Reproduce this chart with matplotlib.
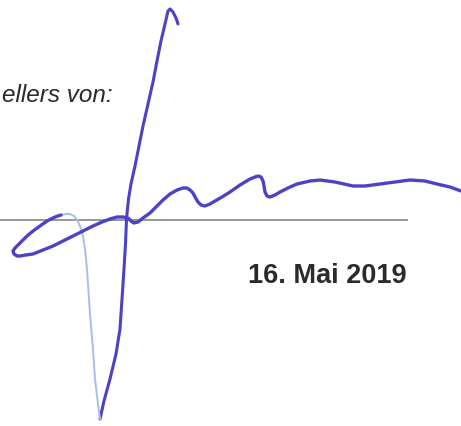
import matplotlib.pyplot as plt

#################### INPUTS ####################
# signature strokes, pixel coords of the scan (x right, y down)
down_x = [178, 176, 173, 170, 168, 165, 161, 157, 153, 148, 143, 139, 135, 131, 128.5, 126.5, 125.5, 124, 122, 120,
          116, 110, 104, 100]
down_y = [25, 19, 13, 10, 12, 25, 42, 62, 83, 105, 127, 147, 167, 185, 200, 220, 245, 270, 300, 330,
          355, 380, 402, 420]

faint_x = [100, 98, 95, 93, 90, 88, 87, 85, 83, 80, 77, 74, 70, 66, 61]
faint_y = [420, 405, 380, 350, 315, 285, 270, 250, 237, 227, 221, 217, 215, 215, 216]

tail_x = [61, 55, 47, 40, 33, 27, 20, 15, 13, 14, 17, 20, 26, 33, 43, 53, 63, 73, 83, 93, 102, 110, 117, 123,
          128, 131, 134, 138, 143, 150, 157, 163, 170, 177, 183, 187, 190, 193, 195, 198, 201, 205, 210, 215,
          222, 230, 240, 250, 255, 258, 261, 263, 264, 265, 267, 270, 275, 280, 290, 297, 310, 320, 335, 353,
          365, 380, 395, 410, 425, 437, 450, 461]
tail_y = [216, 218, 222, 227, 232, 237, 244, 249, 252, 255, 257, 257, 256, 255, 251, 247, 242, 237, 232, 227,
          223, 220, 218, 218, 219, 222, 224, 223, 219, 214, 207, 201, 195, 191, 189, 189, 191, 194, 198, 203,
          206, 207, 205, 202, 198, 193, 186, 180, 178, 177, 178, 182, 187, 193, 197, 198, 196, 193, 188, 185,
          182, 181, 183, 187, 187, 185, 183, 181, 182, 185, 188, 192]

line_x = [0, 408]
line_y = [220.5, 220.5]

label_text = "ellers von:"
date_text = "16. Mai 2019"
################## END INPUTS ####################

W, H = 461, 427
fig = plt.figure(figsize=(W / 100, H / 100), dpi=100)
ax = fig.add_axes([0, 0, 1, 1])
ax.set_xlim(0, W)
ax.set_ylim(H, 0)
ax.axis("off")

# printed form
ax.plot(line_x, line_y, color="#7a7a7a", lw=1.1, solid_capstyle="butt")
ax.text(113, 102, label_text, ha="right", va="baseline", fontsize=17.5,
        style="italic", family="Liberation Sans", color="#2a2a2a")
ax.text(248, 283, date_text, ha="left", va="baseline", fontsize=19.5,
        weight="bold", family="Liberation Sans", color="#2b2b2b")

# ink
ink = "#4d42c6"
ax.plot(down_x, down_y, color=ink, lw=2.2, solid_capstyle="round", solid_joinstyle="round")
ax.plot(faint_x, faint_y, color="#a9bde8", lw=1.4, solid_capstyle="round", solid_joinstyle="round")
ax.plot(tail_x, tail_y, color=ink, lw=2.4, solid_capstyle="round", solid_joinstyle="round")

fig.savefig("out.png", dpi=100)
